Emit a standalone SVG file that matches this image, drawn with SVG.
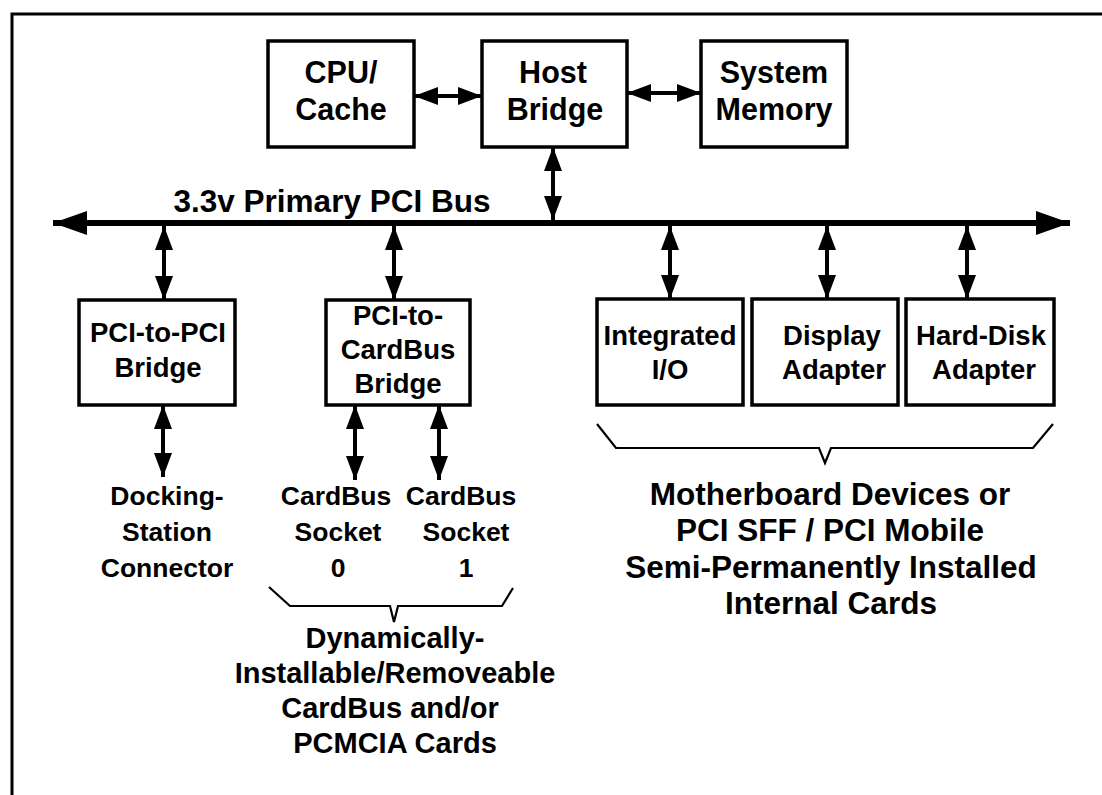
<svg xmlns="http://www.w3.org/2000/svg" width="1102" height="795" viewBox="0 0 1102 795">
<defs>
<style>
text{font-family:"Liberation Sans",Arial,Helvetica,sans-serif;font-weight:bold;fill:#000;text-anchor:middle}
.box{fill:#fff;stroke:#000;stroke-width:3.5}
.t30{font-size:30.5px}
.t31{font-size:31.5px}
.t27{font-size:27.5px}
.t26{font-size:26.5px}
.lab{font-size:29px}
.wire{stroke:#000;stroke-width:4;fill:none}
.brace{stroke:#000;stroke-width:2.2;fill:none;stroke-linejoin:miter}
</style>
<marker id="ah" markerUnits="userSpaceOnUse" markerWidth="24" markerHeight="18" refX="24" refY="9" orient="auto-start-reverse">
<path d="M0,0 L24,9 L0,18 z" fill="#000"/>
</marker>
<marker id="bh" markerUnits="userSpaceOnUse" markerWidth="34" markerHeight="24" refX="34" refY="12" orient="auto-start-reverse">
<path d="M0,0 L34,12 L0,24 z" fill="#000"/>
</marker>
</defs>
<rect width="1102" height="795" fill="#fff"/>
<path d="M12,795 V14 H1102" fill="none" stroke="#000" stroke-width="3"/>

<g id="connectors">
<line x1="53" y1="223" x2="1070" y2="223" stroke="#000" stroke-width="6" marker-start="url(#bh)" marker-end="url(#bh)"/>
<line class="wire" x1="414" y1="96" x2="482" y2="96" marker-start="url(#ah)" marker-end="url(#ah)"/>
<line class="wire" x1="627" y1="93" x2="701" y2="93" marker-start="url(#ah)" marker-end="url(#ah)"/>
<line class="wire" x1="553" y1="147" x2="553" y2="220" marker-start="url(#ah)" marker-end="url(#ah)"/>
<line class="wire" x1="164" y1="226" x2="164" y2="300" marker-start="url(#ah)" marker-end="url(#ah)"/>
<line class="wire" x1="394" y1="226" x2="394" y2="300" marker-start="url(#ah)" marker-end="url(#ah)"/>
<line class="wire" x1="670" y1="226" x2="670" y2="299" marker-start="url(#ah)" marker-end="url(#ah)"/>
<line class="wire" x1="827" y1="226" x2="827" y2="299" marker-start="url(#ah)" marker-end="url(#ah)"/>
<line class="wire" x1="967" y1="226" x2="967" y2="299" marker-start="url(#ah)" marker-end="url(#ah)"/>
<line class="wire" x1="163" y1="405" x2="163" y2="477" marker-start="url(#ah)" marker-end="url(#ah)"/>
<line class="wire" x1="355" y1="405" x2="355" y2="480" marker-start="url(#ah)" marker-end="url(#ah)"/>
<line class="wire" x1="439" y1="405" x2="439" y2="480" marker-start="url(#ah)" marker-end="url(#ah)"/>
<path class="brace" d="M597,424 L616,448 L819,448 L825,463 L831,448 L1033,448 L1053,424"/>
<path class="brace" d="M269,587 L290,606 L390,606 L394,622 L398,606 L502,606 L513,588"/>
</g>

<g id="bus-label"><text class="t31" x="332" y="212">3.3v Primary PCI Bus</text></g>

<g id="cpu"><rect class="box" x="268" y="41" width="146" height="106"/>
<text class="t30" x="341" y="83">CPU/</text><text class="t30" x="341" y="120">Cache</text></g>
<g id="host"><rect class="box" x="482" y="41" width="145" height="106"/>
<text class="t30" x="553" y="83">Host</text><text class="t30" x="555" y="120">Bridge</text></g>
<g id="memory"><rect class="box" x="701" y="41" width="146" height="106"/>
<text class="t30" x="774" y="83">System</text><text class="t30" x="774" y="120">Memory</text></g>

<g id="p2p"><rect class="box" x="79" y="300" width="156" height="105"/>
<text class="t27" x="158" y="342">PCI-to-PCI</text><text class="t27" x="158" y="377">Bridge</text></g>
<g id="p2cb"><rect class="box" x="326" y="300" width="144" height="105"/>
<text class="t27" x="398" y="325">PCI-to-</text><text class="t27" x="398" y="359">CardBus</text><text class="t27" x="398" y="393">Bridge</text></g>
<g id="intio"><rect class="box" x="597" y="299" width="146" height="106"/>
<text class="t27" x="670" y="345">Integrated</text><text class="t27" x="670" y="379">I/O</text></g>
<g id="display"><rect class="box" x="752" y="299" width="146" height="106"/>
<text class="t27" x="832" y="345">Display</text><text class="t27" x="834" y="379">Adapter</text></g>
<g id="harddisk"><rect class="box" x="906" y="299" width="148" height="106"/>
<text class="t27" x="981" y="345">Hard-Disk</text><text class="t27" x="984" y="379">Adapter</text></g>

<g id="docking"><text class="t26" x="167" y="505">Docking-</text><text class="t26" x="167" y="541">Station</text><text class="t26" x="167" y="577">Connector</text></g>
<g id="socket0"><text class="t26" x="336" y="505">CardBus</text><text class="t26" x="338" y="541">Socket</text><text class="t26" x="338" y="577">0</text></g>
<g id="socket1"><text class="t26" x="461" y="505">CardBus</text><text class="t26" x="466" y="541">Socket</text><text class="t26" x="466" y="577">1</text></g>

<g id="dynamic-label"><text class="lab" x="395" y="648">Dynamically-</text><text class="lab" x="395" y="683">Installable/Removeable</text><text class="lab" x="390" y="718">CardBus and/or</text><text class="lab" x="395" y="753">PCMCIA Cards</text></g>
<g id="motherboard-label"><text class="t31" x="830" y="505">Motherboard Devices or</text><text class="t31" x="830" y="541">PCI SFF / PCI Mobile</text><text class="t31" x="831" y="578">Semi-Permanently Installed</text><text class="t31" x="831" y="614">Internal Cards</text></g>
</svg>
